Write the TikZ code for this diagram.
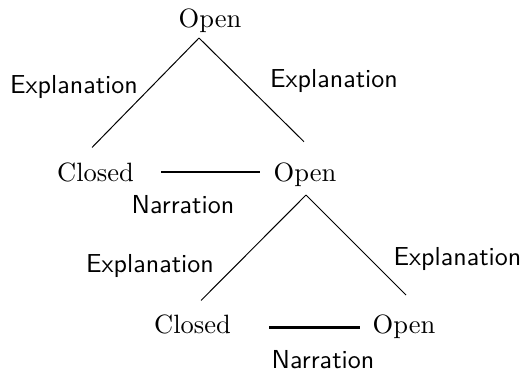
\documentclass[tikz,border=0pt]{standalone}
\usepackage{tikz}
\usetikzlibrary{calc}

\begin{document}
\begin{tikzpicture}[x=0.4pt, y=-0.4pt, every node/.style={anchor=base},
        state/.style={font=\fontsize{10.6pt}{12pt}\selectfont},
        branch/.style={line width=0.4pt},
        narr/.style={line width=0.9pt},
        rel/.style={font=\fontsize{10.4pt}{12pt}\selectfont\sffamily}]
        \useasboundingbox (0,0) rectangle (525,374);
        \node[state] (o1) at (210,27) {Open};
        \node[state] (c1) at (95.5,181) {Closed};
        \node[state] (o2) at (305,181) {Open};
        \node[state] (c2) at (192.5,333) {Closed};
        \node[state] (o3) at (404,333) {Open};

        \node[rel] (e1) at (74,93) {Explanation};
        \node[rel] (e2) at (334,87) {Explanation};
        \node[rel] (n1) at (183,213) {Narration};
        \node[rel] (e3) at (150,272) {Explanation};
        \node[rel] (e4) at (457.5,265) {Explanation};
        \node[rel] (n2) at (323,368) {Narration};

        \coordinate (a1) at (199,38);
        \coordinate (a2) at (306,195);

        \draw[branch] (a1) -- ([xshift=-1.4pt, yshift=2.4pt]c1.north);
        \draw[branch] (a1) -- ([xshift=-0.4pt, yshift=4.7pt]o2.north);
        \draw[narr, shorten <=7.4pt, shorten >=1.9pt] (c1.east) -- (c1.east -| o2.west);

        \draw[branch] (a2) -- ([xshift=3.4pt, yshift=2pt]c2.north);
        \draw[branch] (a2) -- ([xshift=0.8pt, yshift=4.2pt]o3.north);
        \draw[narr, line width=1.2pt, shorten <=11.9pt, shorten >=1.5pt] ([yshift=-1.4pt]c2.east) -- ([yshift=-1.4pt]c2.east -| o3.west);
\end{tikzpicture}
\end{document}
